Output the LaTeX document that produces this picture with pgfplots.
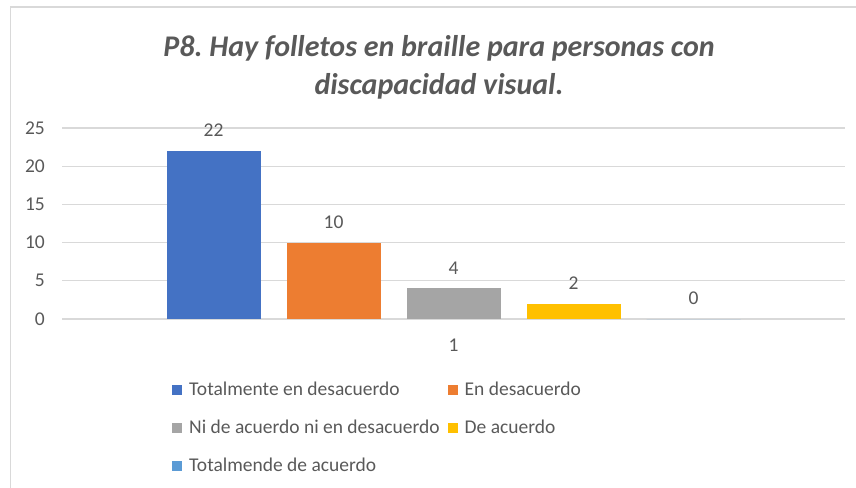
\documentclass[border=0pt]{standalone}
\usepackage{pgfplots}
\pgfplotsset{compat=1.18}
\usepackage{fontspec}
\setmainfont{Carlito}
\frenchspacing
\definecolor{cBlue}{HTML}{4472C4}
\definecolor{cOrange}{HTML}{ED7D31}
\definecolor{cGray}{HTML}{A5A5A5}
\definecolor{cYellow}{HTML}{FFC000}
\definecolor{cLBlue}{HTML}{5B9BD5}
\definecolor{txt}{HTML}{595959}
\definecolor{gridc}{HTML}{D9D9D9}
\begin{document}
\begin{tikzpicture}
\path[use as bounding box] (0,0) rectangle (856bp,488bp);
\draw[gridc, line width=1.5bp] (10.5bp,0) -- (10.5bp,481bp) -- (856bp,481bp);
\node[txt, font=\fontsize{30bp}{36bp}\selectfont\bfseries\itshape] at (439bp,440bp) {P8. Hay folletos en braille para personas con};
\node[txt, font=\fontsize{30bp}{36bp}\selectfont\bfseries\itshape] at (439bp,402bp) {discapacidad visual.};
\begin{axis}[
  at={(62bp,169bp)}, anchor=south west,
  scale only axis, width=783bp, height=191bp,
  xmin=0.5, xmax=1.5, ymin=0, ymax=25,
  ybar=26bp, bar width=94bp,
  xtick={1}, ytick={0,5,10,15,20,25},
  axis line style={draw=none},
  major tick length=0pt,
  xmajorgrids=false, ymajorgrids=true, grid style={draw=gridc, line width=1.3bp},
  clip=false,
  font=\fontsize{19.5bp}{23bp}\selectfont,
  tick label style={txt, font=\fontsize{19.5bp}{23bp}\selectfont},
  /pgf/number format/assume math mode=true,
  yticklabel style={inner sep=0pt, xshift=-17bp},
  xticklabel style={inner sep=0pt, yshift=-20bp},
  nodes near coords,
  every node near coord/.append style={txt, font=\fontsize{19.5bp}{23bp}\selectfont, inner sep=0pt, yshift=14bp},
  legend columns=2,
  legend cell align=left,
  legend style={at={(0.1405,-0.319)}, anchor=north west, draw=none, fill=none, inner sep=0pt,
    font=\fontsize{19.5bp}{23bp}\selectfont, text=txt, row sep=19bp,
    /tikz/every even column/.append style={column sep=6bp}},
  legend image code/.code={\fill[#1] (0bp,-5bp) rectangle (10bp,5bp); \path (15bp,0bp);},
]
\addplot[fill=cBlue, draw=none] coordinates {(1,22)};
\addplot[fill=cOrange, draw=none] coordinates {(1,10)};
\addplot[fill=cGray, draw=none] coordinates {(1,4)};
\addplot[fill=cYellow, draw=none] coordinates {(1,2)};
\addplot[fill=cLBlue, draw=none] coordinates {(1,0)};
\legend{Totalmente en desacuerdo, En desacuerdo, Ni de acuerdo ni en desacuerdo, De acuerdo, Totalmende de acuerdo}
\end{axis}
\end{tikzpicture}
\end{document}
